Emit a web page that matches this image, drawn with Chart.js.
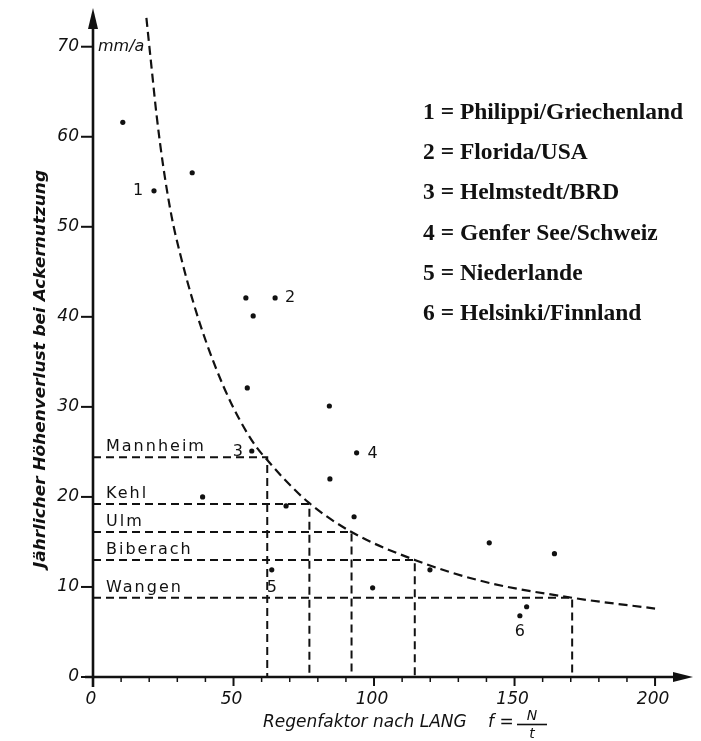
<!DOCTYPE html>
<html>
<head>
<meta charset="utf-8">
<script src="https://cdn.jsdelivr.net/npm/chart.js@4.4.1/dist/chart.umd.min.js"></script>
<style>
  html, body { margin: 0; padding: 0; background: #fff; }
  #wrap { width: 701px; height: 741px; }
</style>
</head>
<body>
<div id="wrap"><canvas id="erosionChart" width="701" height="741"></canvas></div>
<script>
// fitted curve: annual soil loss vs. rain factor
const curveFactor = [19, 20.8, 22.7, 25, 28, 31, 35.7, 40.5, 46.4, 52.3, 58, 62, 68, 77, 92, 114.5, 139, 170.5, 200];
const curveLoss   = [73.2, 67.8, 62.2, 56.7, 51.1, 47.0, 41.6, 37.0, 32.3, 28.5, 25.6, 24.1, 22.0, 19.3, 16.1, 13.0, 10.6, 8.8, 7.6];

// measured sites
const pointFactor = [10.6, 21.7, 35.3, 54.4, 64.8, 57.0, 54.9, 84.1, 56.5, 84.3, 39.0, 68.7, 63.6, 93.8, 92.9, 141.0, 164.2, 119.9, 99.5, 154.3, 151.9];
const pointLoss   = [61.6, 54.0, 56.0, 42.1, 42.1, 40.1, 32.1, 30.1, 25.1, 22.0, 20.0, 19.0, 11.9, 24.9, 17.8, 14.9, 13.7, 11.9, 9.9, 7.8, 6.8];

// numbered points (index into the arrays above)
const numberText  = ['1', '2', '3', '4', '5', '6'];
const numberPoint = [1, 4, 8, 13, 12, 20];

// towns
const townNames  = ['Mannheim', 'Kehl', 'Ulm', 'Biberach', 'Wangen'];
const townFactor = [62, 77, 92, 114.5, 170.5];
const townLoss   = [24.4, 19.2, 16.1, 13.0, 8.8];

const legendLines = [
  '1 = Philippi/Griechenland',
  '2 = Florida/USA',
  '3 = Helmstedt/BRD',
  '4 = Genfer See/Schweiz',
  '5 = Niederlande',
  '6 = Helsinki/Finnland'
];

const xTicks = [0, 50, 100, 150, 200];
const xMinorTicks = [10, 20, 30, 40, 60, 70, 80, 90, 110, 120, 130, 140, 160, 170, 180, 190];
const yTicks = [0, 10, 20, 30, 40, 50, 60, 70];

const INK = '#111';

const datasets = [];

townNames.forEach((name, i) => {
  datasets.push({
    type: 'line',
    label: name,
    data: [
      { x: 0, y: townLoss[i] },
      { x: townFactor[i], y: townLoss[i] },
      { x: townFactor[i], y: 0 }
    ],
    borderColor: INK,
    borderWidth: 2,
    borderDash: [8, 5],
    pointRadius: 0,
    tension: 0,
    fill: false
  });
});

datasets.push({
  type: 'line',
  label: 'Kurve',
  data: curveFactor.map((x, i) => ({ x, y: curveLoss[i] })),
  borderColor: INK,
  borderWidth: 2.2,
  borderDash: [9, 5],
  pointRadius: 0,
  cubicInterpolationMode: 'monotone',
  fill: false
});

datasets.push({
  type: 'scatter',
  label: 'Messpunkte',
  data: pointFactor.map((x, i) => ({ x, y: pointLoss[i] })),
  backgroundColor: INK,
  borderColor: INK,
  pointRadius: 2.6,
  pointBorderWidth: 0
});

const drawAxes = {
  id: 'drawAxes',
  afterDatasetsDraw(chart) {
    const ctx = chart.ctx;
    const xs = chart.scales.x, ys = chart.scales.y;
    const x0 = xs.getPixelForValue(0), y0 = ys.getPixelForValue(0);
    const area = chart.chartArea;
    ctx.save();
    ctx.strokeStyle = INK;
    ctx.fillStyle = INK;
    ctx.lineCap = 'butt';

    // y axis with arrow
    ctx.lineWidth = 2.6;
    ctx.beginPath();
    ctx.moveTo(x0, y0 + 10);
    ctx.lineTo(x0, area.top + 16);
    ctx.stroke();
    ctx.beginPath();
    ctx.moveTo(x0, area.top);
    ctx.lineTo(x0 - 5, area.top + 21);
    ctx.lineTo(x0 + 5, area.top + 21);
    ctx.closePath();
    ctx.fill();

    // x axis with arrow
    ctx.beginPath();
    ctx.moveTo(x0 - 8, y0);
    ctx.lineTo(area.right - 14, y0);
    ctx.stroke();
    ctx.beginPath();
    ctx.moveTo(area.right, y0);
    ctx.lineTo(area.right - 20, y0 - 5);
    ctx.lineTo(area.right - 20, y0 + 5);
    ctx.closePath();
    ctx.fill();

    // y ticks + labels
    ctx.lineWidth = 2;
    ctx.font = 'italic 17px "DejaVu Sans"';
    ctx.textAlign = 'right';
    ctx.textBaseline = 'middle';
    yTicks.forEach(v => {
      const py = ys.getPixelForValue(v);
      ctx.beginPath();
      ctx.moveTo(x0 - 12, py);
      ctx.lineTo(x0, py);
      ctx.stroke();
      ctx.fillText(String(v), x0 - 14, py);
    });

    // x ticks + labels
    ctx.textAlign = 'center';
    ctx.textBaseline = 'middle';
    xMinorTicks.forEach(v => {
      const px = xs.getPixelForValue(v);
      ctx.lineWidth = 1.5;
      ctx.beginPath();
      ctx.moveTo(px, y0);
      ctx.lineTo(px, y0 + 5);
      ctx.stroke();
    });
    xTicks.forEach(v => {
      const px = xs.getPixelForValue(v);
      ctx.lineWidth = 2;
      ctx.beginPath();
      ctx.moveTo(px, y0);
      ctx.lineTo(px, y0 + 9);
      ctx.stroke();
      ctx.fillText(String(v), px - 2, y0 + 23);
    });

    // unit
    ctx.textAlign = 'left';
    ctx.font = 'italic 16px "DejaVu Sans"';
    ctx.fillText('mm/a', x0 + 5, ys.getPixelForValue(70));

    // x title with fraction
    ctx.font = 'italic 17px "DejaVu Sans"';
    ctx.textBaseline = 'alphabetic';
    ctx.fillText('Regenfaktor nach LANG', 263, 727);
    ctx.fillText('f =', 488, 727);
    ctx.textAlign = 'center';
    ctx.font = 'italic 14px "DejaVu Sans"';
    ctx.fillText('N', 532, 720);
    ctx.fillText('t', 532, 738);
    ctx.lineWidth = 1.6;
    ctx.beginPath();
    ctx.moveTo(517, 724.5);
    ctx.lineTo(547, 724.5);
    ctx.stroke();

    // y title
    ctx.save();
    ctx.translate(41, 369);
    ctx.rotate(-Math.PI / 2);
    ctx.font = 'italic bold 16px "DejaVu Sans"';
    const yTitle = 'Jährlicher Höhenverlust bei Ackernutzung';
    const w = ctx.measureText(yTitle).width;
    ctx.scale(398 / w, 1);
    ctx.textAlign = 'center';
    ctx.textBaseline = 'middle';
    ctx.fillText(yTitle, 0, 0);
    ctx.restore();

    // town names above their lines
    ctx.font = '16px "DejaVu Sans"';
    ctx.letterSpacing = '2px';
    ctx.textAlign = 'left';
    ctx.textBaseline = 'alphabetic';
    townNames.forEach((name, i) => {
      ctx.fillText(name, x0 + 13, ys.getPixelForValue(townLoss[i]) - 6);
    });
    ctx.letterSpacing = '0px';

    // point numbers
    const numOffset = [[-16, 0], [15, 0], [-14, 1], [16, 1], [0, 18], [0, 16]];
    ctx.font = '16px "DejaVu Sans"';
    ctx.textAlign = 'center';
    ctx.textBaseline = 'middle';
    numberText.forEach((t, i) => {
      const k = numberPoint[i];
      const px = xs.getPixelForValue(pointFactor[k]);
      const py = ys.getPixelForValue(pointLoss[k]);
      ctx.fillText(t, px + numOffset[i][0], py + numOffset[i][1]);
    });

    // key
    ctx.font = 'bold 23.5px "Liberation Serif"';
    ctx.textAlign = 'left';
    ctx.textBaseline = 'middle';
    legendLines.forEach((line, i) => {
      ctx.fillText(line, 423, 113 + i * 40.2);
    });

    ctx.restore();
  }
};

new Chart(document.getElementById('erosionChart'), {
  type: 'scatter',
  data: { datasets },
  options: {
    responsive: false,
    animation: false,
    layout: { padding: { left: 93, right: 8, top: 8, bottom: 64 } },
    plugins: {
      legend: { display: false },
      tooltip: { enabled: false }
    },
    scales: {
      x: { type: 'linear', min: 0, max: 213.5, display: false },
      y: { type: 'linear', min: 0, max: 74.3, display: false }
    }
  },
  plugins: [drawAxes]
});
</script>
</body>
</html>
